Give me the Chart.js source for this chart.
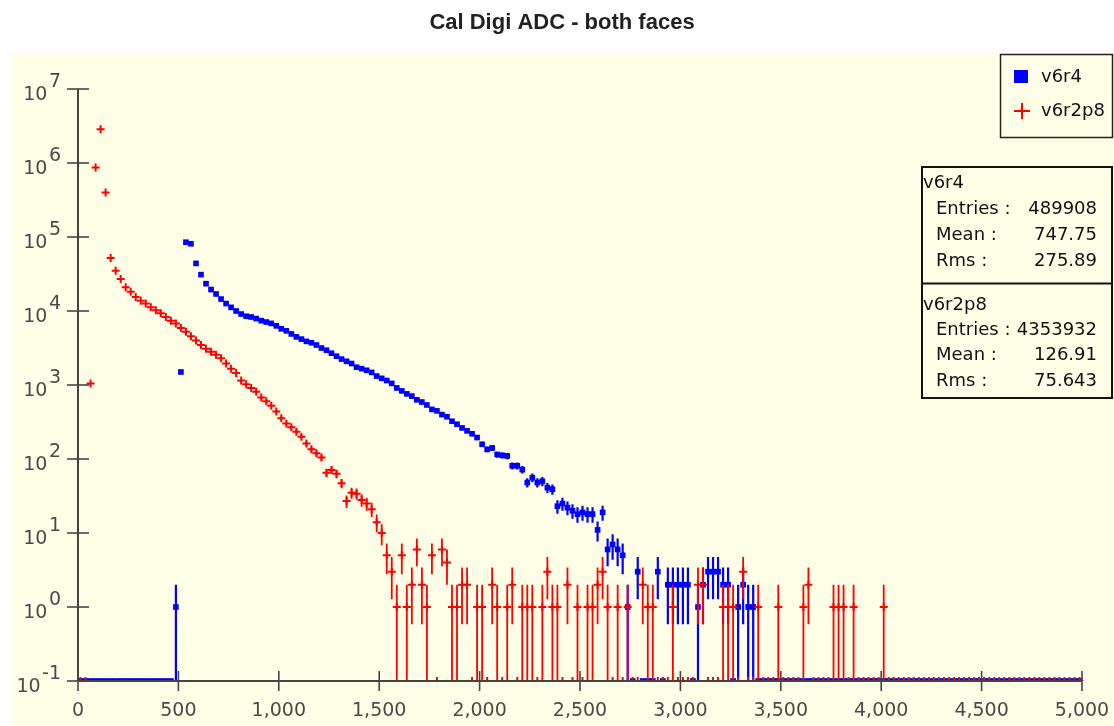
<!DOCTYPE html>
<html>
<head>
<meta charset="utf-8">
<script src="https://cdn.jsdelivr.net/npm/chart.js@4.4.0/dist/chart.umd.min.js"></script>
<style>
html,body{margin:0;padding:0;background:#fff;overflow:hidden}
#wrap{position:relative;width:1114px;height:726px}
</style>
</head>
<body>
<div id="wrap"><canvas id="c" width="1114" height="726"></canvas></div>
<script>
// ---------- data ----------
const chartTitle = 'Cal Digi ADC - both faces';
const seriesNames = ['v6r4', 'v6r2p8'];
const seriesColors = ['#0000ff', '#ff0000'];
const binRange = [0, 5000];
const binCount = 200;
const xTickValues = [0, 500, 1000, 1500, 2000, 2500, 3000, 3500, 4000, 4500, 5000];
const xTickLabels = ['0', '500', '1,000', '1,500', '2,000', '2,500', '3,000', '3,500', '4,000', '4,500', '5,000'];
const yTickExponents = [-1, 0, 1, 2, 3, 4, 5, 6, 7];

const v6r4Counts = [
  0,0,0,0,0,0,0,0,0,0,
  0,0,0,0,0,0,0,0,0,1,
  1500,85000,81000,44000,31000,23400,19500,17000,14500,12600,
  11200,10000,9100,8500,8300,7900,7400,7100,6800,6300,
  5750,5400,4900,4470,4170,3890,3720,3470,3160,2950,
  2690,2450,2240,2090,1950,1740,1660,1580,1480,1320,
  1230,1150,1050,912,832,759,708,631,589,537,
  468,447,398,372,324,295,263,240,219,195,
  158,135,141,115,112,110,81,81,72,48,
  56,48,50,41,39,23,25,22,20,18,
  19,18,18,11,19,6,7,6,5,1,
  0,3,0,0,0,3,0,2,2,2,
  2,2,0,1,2,3,3,3,2,2,
  0,1,2,1,1,0,0,0,0,0,
  0,0,0,0,0,0,0,0,0,0,
  0,0,0,0,0,0,0,0,0,0,
  0,0,0,0,0,0,0,0,0,0,
  0,0,0,0,0,0,0,0,0,0,
  0,0,0,0,0,0,0,0,0,0,
  0,0,0,0,0,0,0,0,0,0
];

const v6r2p8Counts = [
  0,0,1050,870000,2850000,400000,52000,35000,27000,21000,
  18200,15500,13800,12600,11200,10200,9300,8300,7400,6800,
  5900,5250,4570,3980,3470,3090,2820,2570,2290,1950,
  1660,1450,1150,1020,912,813,676,603,525,437,
  355,302,269,234,200,162,135,120,105,65,
  71,63,47,27,35,34,28,25,21,14,
  10,5,3,1,5,1,2,6,2,1,
  5,0,6,4,1,1,2,2,0,1,
  1,0,2,1,0,1,2,0,1,1,
  1,0,1,3,1,1,0,2,0,1,
  0,1,1,2,3,1,0,1,0,1,
  0,0,2,1,1,0,0,0,1,0,
  0,0,0,2,2,0,0,0,1,1,
  1,0,3,0,0,1,0,0,0,1,
  0,0,0,0,1,2,0,0,0,0,
  1,1,1,0,1,0,0,0,0,0,
  1,0,0,0,0,0,0,0,0,0,
  0,0,0,0,0,0,0,0,0,0,
  0,0,0,0,0,0,0,0,0,0,
  0,0,0,0,0,0,0,0,0,0
];

const statsV6r4 = [['Entries :', '489908'], ['Mean :', '747.75'], ['Rms :', '275.89']];
const statsV6r2p8 = [['Entries :', '4353932'], ['Mean :', '126.91'], ['Rms :', '75.643']];

// ---------- build ----------
const yMin = 0.1, yMax = 1e7;
function toPoints(counts) {
  const w = (binRange[1] - binRange[0]) / binCount;
  return counts.map((n, i) => ({ x: binRange[0] + (i + 0.5) * w, y: n > 0 ? n : yMin, n: n }));
}

const FONT = '"DejaVu Sans", "Liberation Sans", sans-serif';
const AXIS = '#444444';
const LABEL = '#4a4a4a';

const errorBars = {
  id: 'errorBars',
  beforeDatasetDraw(chart, args) {
    const ds = chart.data.datasets[args.index];
    const { ctx, chartArea: a } = chart;
    const xs = chart.scales.x, ys = chart.scales.y;
    ctx.save();
    ctx.beginPath();
    ctx.rect(a.left - 5, a.top - 5, a.right - a.left + 10, a.bottom - a.top + 5);
    ctx.clip();
    ctx.strokeStyle = ds.borderColor;
    ctx.lineWidth = ds.errWidth;
    ctx.beginPath();
    ds.data.forEach(p => {
      if (p.n > 0) {
        const e = Math.sqrt(p.n);
        const px = xs.getPixelForValue(p.x);
        const top = ys.getPixelForValue(p.n + e);
        const bot = (p.n - e) > 0 ? ys.getPixelForValue(p.n - e) : a.bottom;
        ctx.moveTo(px, top);
        ctx.lineTo(px, bot);
      }
    });
    ctx.stroke();
    ctx.restore();
  }
};

const frame = {
  id: 'frame',
  beforeDraw(chart) {
    const ctx = chart.ctx;
    ctx.save();
    ctx.fillStyle = '#ffffff';
    ctx.fillRect(0, 0, chart.width, chart.height);
    ctx.fillStyle = '#ffffe8';
    ctx.fillRect(10, 53, chart.width - 10, chart.height - 53);
    ctx.fillStyle = '#222';
    ctx.font = 'bold 22px "Liberation Sans", Arial, sans-serif';
    ctx.textAlign = 'center';
    ctx.textBaseline = 'alphabetic';
    ctx.fillText(chartTitle, 562, 29);
    ctx.restore();
  },
  afterDatasetsDraw(chart) {
    const { ctx, chartArea: a } = chart;
    const xs = chart.scales.x, ys = chart.scales.y;
    ctx.save();
    // axes
    ctx.strokeStyle = AXIS;
    ctx.lineWidth = 2;
    ctx.beginPath();
    ctx.moveTo(a.left, a.top);
    ctx.lineTo(a.left, a.bottom);
    ctx.moveTo(a.left, a.bottom);
    ctx.lineTo(a.right, a.bottom);
    ctx.stroke();
    // y ticks and labels
    ctx.lineWidth = 1.6;
    ctx.fillStyle = LABEL;
    yTickExponents.forEach(ex => {
      const py = ys.getPixelForValue(Math.pow(10, ex));
      ctx.beginPath();
      ctx.moveTo(a.left - 11, py);
      ctx.lineTo(a.left + 11, py);
      ctx.stroke();
      ctx.font = '19px ' + FONT;
      ctx.textAlign = 'right';
      ctx.textBaseline = 'alphabetic';
      const expStr = String(ex);
      const expW = ctx.measureText(expStr).width;
      ctx.fillText(expStr, 61, py - 2);
      ctx.fillText('10', 61 - expW - 1.5, py + 11);
    });
    // x ticks and labels
    ctx.textAlign = 'center';
    ctx.textBaseline = 'alphabetic';
    ctx.font = '19px ' + FONT;
    xTickValues.forEach((v, i) => {
      const px = xs.getPixelForValue(v);
      ctx.beginPath();
      ctx.moveTo(px, a.bottom - 10);
      ctx.lineTo(px, a.bottom + 10);
      ctx.stroke();
      ctx.fillText(xTickLabels[i], px, 716);
    });

    // legend box
    ctx.strokeStyle = '#222';
    ctx.lineWidth = 1.5;
    ctx.fillStyle = '#ffffe8';
    ctx.fillRect(1000.5, 54.5, 112, 83);
    ctx.strokeRect(1000.5, 54.5, 112, 83);
    ctx.fillStyle = seriesColors[0];
    ctx.fillRect(1014, 70, 14, 13);
    ctx.strokeStyle = seriesColors[1];
    ctx.lineWidth = 2;
    ctx.beginPath();
    ctx.moveTo(1014, 111); ctx.lineTo(1030, 111);
    ctx.moveTo(1022, 103); ctx.lineTo(1022, 119);
    ctx.stroke();
    ctx.fillStyle = '#111';
    ctx.font = '18px ' + FONT;
    ctx.textAlign = 'left';
    ctx.textBaseline = 'middle';
    ctx.fillText(seriesNames[0], 1041, 77);
    ctx.fillText(seriesNames[1], 1041, 111);

    // stats box
    ctx.strokeStyle = '#111';
    ctx.lineWidth = 2;
    ctx.fillStyle = '#ffffe8';
    ctx.fillRect(922, 167, 190, 231);
    ctx.strokeRect(922, 167, 190, 231);
    ctx.beginPath();
    ctx.moveTo(922, 283.5); ctx.lineTo(1112, 283.5);
    ctx.stroke();
    ctx.fillStyle = '#111';
    ctx.font = '18px ' + FONT;
    const blocks = [[seriesNames[0], statsV6r4, 183.5], [seriesNames[1], statsV6r2p8, 305]];
    blocks.forEach(([name, rows, y0]) => {
      ctx.textAlign = 'left';
      ctx.fillText(name, 923, y0);
      rows.forEach((r, i) => {
        const y = y0 + 26 * (i + 1) - (name === seriesNames[1] ? 0.6 * (i + 1) : 0);
        ctx.textAlign = 'left';
        ctx.fillText(r[0], 936, y);
        ctx.textAlign = 'right';
        ctx.fillText(r[1], 1097, y);
      });
    });
    ctx.restore();
  }
};

new Chart(document.getElementById('c'), {
  type: 'scatter',
  data: {
    datasets: [
      {
        label: seriesNames[1],
        data: toPoints(v6r2p8Counts),
        order: 0,
        pointStyle: 'cross',
        pointRadius: 4,
        pointBorderWidth: 2,
        borderColor: seriesColors[1],
        backgroundColor: seriesColors[1],
        borderWidth: 2,
        errWidth: 1.8,
        showLine: false,
        clip: { left: 8, right: 8, top: 8, bottom: 0 }
      },
      {
        label: seriesNames[0],
        data: toPoints(v6r4Counts),
        order: 1,
        pointStyle: 'rect',
        pointRadius: 4,
        pointBorderWidth: 0,
        borderColor: seriesColors[0],
        backgroundColor: seriesColors[0],
        borderWidth: 0,
        errWidth: 2.2,
        showLine: false,
        clip: { left: 8, right: 8, top: 8, bottom: 0 }
      }
    ]
  },
  options: {
    responsive: false,
    animation: false,
    devicePixelRatio: 1,
    layout: { padding: { left: 0, right: 32, top: 89, bottom: 0 } },
    plugins: { legend: { display: false }, tooltip: { enabled: false }, title: { display: false } },
    scales: {
      x: {
        type: 'linear', min: binRange[0], max: binRange[1],
        grid: { display: false, drawTicks: false },
        border: { display: false },
        ticks: { display: false },
        afterFit(s) { s.height = 45; }
      },
      y: {
        type: 'logarithmic', min: yMin, max: yMax,
        grid: { display: false, drawTicks: false },
        border: { display: false },
        ticks: { display: false },
        afterFit(s) { s.width = 78; }
      }
    }
  },
  plugins: [frame, errorBars]
});
</script>
</body>
</html>
